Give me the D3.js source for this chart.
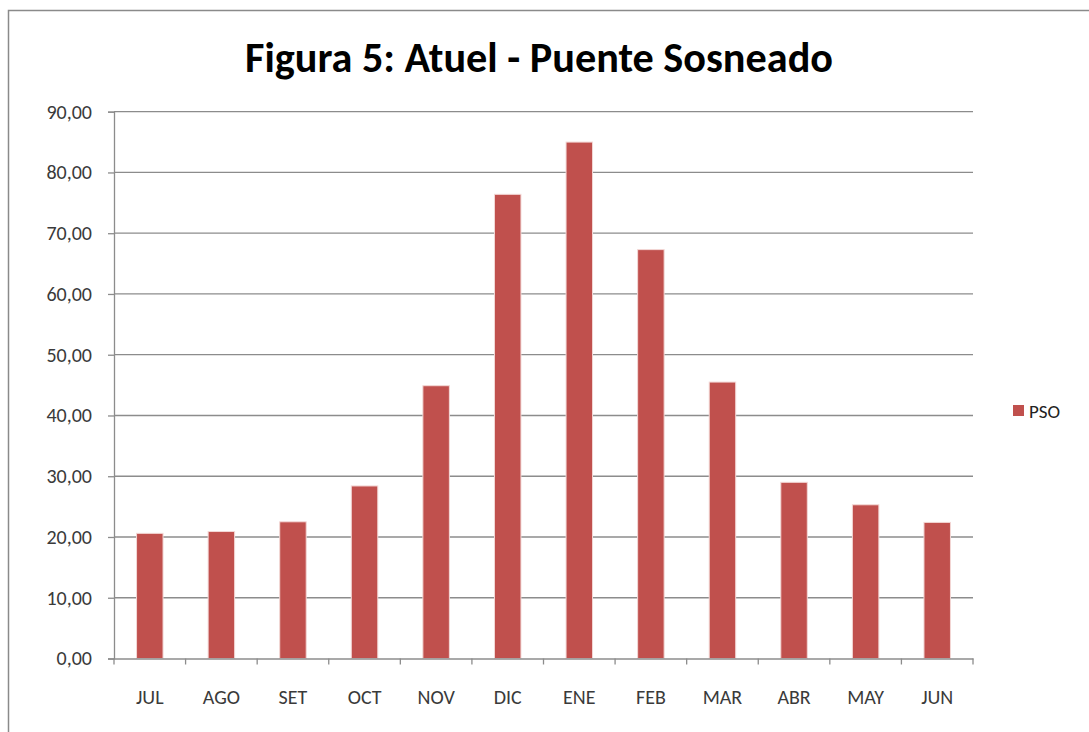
<!DOCTYPE html>
<html>
<head>
<meta charset="utf-8">
<script src="https://cdn.jsdelivr.net/npm/d3@7"></script>
<style>
  html, body { margin: 0; padding: 0; background: #ffffff; }
  svg { display: block; }
  text { font-family: Carlito, Calibri, "Liberation Sans Narrow", Lato, "Open Sans", sans-serif; }
</style>
</head>
<body>
<svg id="chart" width="1089" height="732"></svg>
<script>
const categories = ["JUL", "AGO", "SET", "OCT", "NOV", "DIC", "ENE", "FEB", "MAR", "ABR", "MAY", "JUN"];
const values = [20.6, 20.9, 22.5, 28.4, 44.9, 76.4, 85.0, 67.3, 45.5, 29.0, 25.3, 22.4];
const yTicks = [0, 10, 20, 30, 40, 50, 60, 70, 80, 90];
const seriesName = "PSO";
const title = "Figura 5: Atuel - Puente Sosneado";

const svg = d3.select("#chart");
const W = 1089, H = 732;
const m = { left: 114, right: 973, top: 111.7, bottom: 658.5 };
const FONT = "Carlito, Calibri, 'Liberation Sans Narrow', Lato, sans-serif";

// chart frame
svg.append("rect").attr("x", 8.5).attr("y", 10.5).attr("width", W + 10).attr("height", H + 10)
  .attr("fill", "#fff").attr("stroke", "#8a8a8a").attr("stroke-width", 1.5);

const x = d3.scaleBand().domain(categories).range([m.left, m.right]).paddingInner(0.63).paddingOuter(0.315);
const xb = d3.scaleBand().domain(categories).range([m.left, m.right]);
const y = d3.scaleLinear().domain([0, 90]).range([m.bottom, m.top]);

// gridlines
svg.append("g").selectAll("line").data(yTicks.filter(d => d > 0)).join("line")
  .attr("x1", m.left).attr("x2", m.right)
  .attr("y1", d => y(d)).attr("y2", d => y(d))
  .attr("stroke", "#8c8c8c").attr("stroke-width", 1.3);

// bars
svg.append("g").selectAll("rect").data(values).join("rect")
  .attr("x", (d, i) => x(categories[i]))
  .attr("width", x.bandwidth())
  .attr("y", d => y(d))
  .attr("height", d => y(0) - y(d))
  .attr("fill", "#c0504d")
  .attr("stroke", "#f3d8d6").attr("stroke-width", 1);

// y axis
const yAxis = d3.axisLeft(y).tickValues(yTicks).tickSize(6).tickPadding(16)
  .tickFormat(d => d3.format(".2f")(d).replace(".", ","));
const gy = svg.append("g").attr("transform", `translate(${m.left},0)`).call(yAxis);
gy.select(".domain").attr("stroke", "#8c8c8c").attr("stroke-width", 1.3);
gy.selectAll(".tick line").attr("stroke", "#8c8c8c").attr("stroke-width", 1.3);
gy.selectAll(".tick text").attr("fill", "#3a3a3a").style("font-size", "20px")
  .attr("font-family", FONT);

// x axis
const xAxis = d3.axisBottom(xb).tickSize(0).tickPadding(31);
const gx = svg.append("g").attr("transform", `translate(0,${m.bottom})`).call(xAxis);
gx.select(".domain").attr("stroke", "#8c8c8c").attr("stroke-width", 1.3);
gx.selectAll(".tick text").attr("fill", "#3a3a3a").style("font-size", "20px")
  .attr("font-family", FONT);
// category boundary ticks
const bounds = categories.map(c => xb(c)).concat([m.right]);
gx.append("g").selectAll("line").data(bounds).join("line")
  .attr("x1", d => d).attr("x2", d => d).attr("y1", 0).attr("y2", 6)
  .attr("stroke", "#8c8c8c").attr("stroke-width", 1.3);

// title
svg.append("text").attr("x", 539).attr("y", 72).attr("text-anchor", "middle")
  .attr("font-weight", "bold").style("font-size", "43px").attr("fill", "#000")
  .attr("textLength", 588).attr("lengthAdjust", "spacingAndGlyphs")
  .text(title);

// legend
const lg = svg.append("g");
lg.append("rect").attr("x", 1013).attr("y", 405).attr("width", 11).attr("height", 11).attr("fill", "#c0504d");
lg.append("text").attr("x", 1029).attr("y", 418).attr("fill", "#222").style("font-size", "19px").text(seriesName);
</script>
</body>
</html>
